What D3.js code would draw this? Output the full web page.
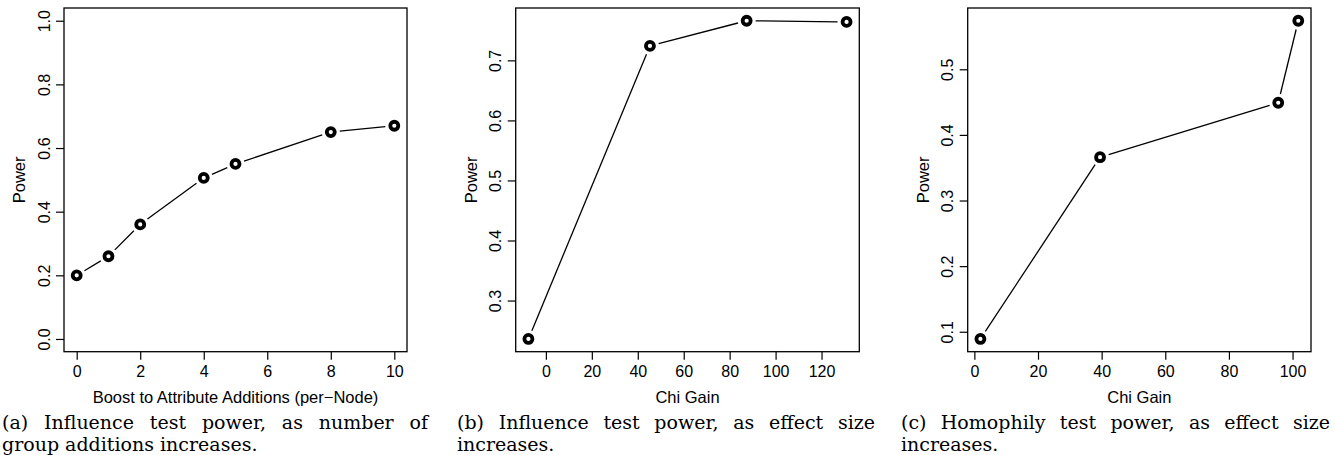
<!DOCTYPE html>
<html lang="en">
  <head>
    <title>Test power</title>
    <script src="https://d3js.org/d3.v7.min.js"></script>
    <style>
      body { margin: 0; background: #fff; }
      .axis text { font-family: "Liberation Sans", Arial, sans-serif; font-size: 16px; fill: #000; }
      .lab { font-family: "Liberation Sans", Arial, sans-serif; font-size: 16.5px; fill: #000; }
      .cap { font-family: "DejaVu Serif", serif; font-size: 19px; fill: #000; }
      line.seg { stroke: #000; stroke-width: 1.3; }
      circle.pt { fill: #fff; stroke: #000; stroke-width: 3.8; }
    </style>
  </head>
  <body>
    <svg width="1335" height="455"></svg>

    <script>
      // panel (a)
      var boostX = [0, 1, 2, 4, 5, 8, 10];
      var boostPower = [0.20, 0.26, 0.36, 0.506, 0.55, 0.65, 0.67];
      // panel (b)
      var chiInfX = [-7.6, 45.3, 87.4, 130.9];
      var chiInfPower = [0.236, 0.724, 0.766, 0.764];
      // panel (c)
      var chiHomX = [1.9, 39.5, 95.5, 101.8];
      var chiHomPower = [0.089, 0.366, 0.449, 0.574];

      var xTicksA = [0, 2, 4, 6, 8, 10], yTicksA = [0, 0.2, 0.4, 0.6, 0.8, 1.0];
      var xTicksB = [0, 20, 40, 60, 80, 100, 120], yTicksB = [0.3, 0.4, 0.5, 0.6, 0.7];
      var xTicksC = [0, 20, 40, 60, 80, 100], yTicksC = [0.1, 0.2, 0.3, 0.4, 0.5];

      var xTitles = ["Boost to Attribute Additions (per\u2212Node)", "Chi Gain", "Chi Gain"];
      var captions = [
        ["(a) Influence test power, as number of", "group additions increases."],
        ["(b) Influence test power, as effect size", "increases."],
        ["(c) Homophily test power, as effect size", "increases."]
      ];

      // R style 4% padding
      function pad(ext) {
        var d = (ext[1] - ext[0]) * 0.04;
        return [ext[0] - d, ext[1] + d];
      }

      var panels = [
        {x: boostX, y: boostPower, xt: xTicksA, yt: yTicksA, xd: pad([0, 10]), yd: pad([0, 1]),
         left: 64, right: 407, capL: 2, capR: 428},
        {x: chiInfX, y: chiInfPower, xt: xTicksB, yt: yTicksB, xd: pad(d3.extent(chiInfX)), yd: pad(d3.extent(chiInfPower)),
         left: 515.7, right: 859.3, capL: 457, capR: 875},
        {x: chiHomX, y: chiHomPower, xt: xTicksC, yt: yTicksC, xd: pad(d3.extent(chiHomX)), yd: pad(d3.extent(chiHomPower)),
         left: 967.7, right: 1311, capL: 901, capR: 1330}
      ];

      var plotTop = 8, plotBottom = 351.7, gap = 9;
      var svg = d3.select("svg");

      panels.forEach(function(p, i) {
        var x = d3.scaleLinear().domain(p.xd).range([p.left, p.right]);
        var y = d3.scaleLinear().domain(p.yd).range([plotBottom, plotTop]);
        var g = svg.append("g");

        // x axis
        var xa = g.append("g").attr("class", "axis")
          .attr("transform", "translate(0," + plotBottom + ")")
          .call(d3.axisBottom(x).tickValues(p.xt).tickSize(8).tickPadding(0).tickFormat(d3.format("d")));
        xa.select(".domain").remove();
        xa.selectAll(".tick text").attr("y", 20).attr("dy", null).attr("dominant-baseline", "central");
        xa.selectAll("line").attr("stroke", "#000").attr("stroke-width", 1.2);

        // y axis, labels rotated like R's default
        var ya = g.append("g").attr("class", "axis")
          .attr("transform", "translate(" + p.left + ",0)")
          .call(d3.axisLeft(y).tickValues(p.yt).tickSize(8).tickFormat(d3.format(".1f")));
        ya.select(".domain").remove();
        ya.selectAll("line").attr("stroke", "#000").attr("stroke-width", 1.2);
        ya.selectAll(".tick text")
          .attr("x", null).attr("dy", null)
          .attr("transform", "translate(-20,0) rotate(-90)")
          .attr("text-anchor", "middle")
          .attr("dominant-baseline", "central");

        // box
        g.append("rect")
          .attr("x", p.left).attr("y", plotTop)
          .attr("width", p.right - p.left).attr("height", plotBottom - plotTop)
          .attr("fill", "none").attr("stroke", "#000").attr("stroke-width", 1.3);

        // titles
        g.append("text").attr("class", "lab")
          .attr("x", (p.left + p.right) / 2).attr("y", plotBottom + 45)
          .attr("text-anchor", "middle").attr("dominant-baseline", "central")
          .text(xTitles[i]);
        g.append("text").attr("class", "lab")
          .attr("transform", "translate(" + (p.left - 45) + "," + ((plotTop + plotBottom) / 2) + ") rotate(-90)")
          .attr("text-anchor", "middle").attr("dominant-baseline", "central")
          .text("Power");

        // line segments with gaps (type = "b")
        var pts = p.x.map(function(v, k) { return [x(v), y(p.y[k])]; });
        var segs = d3.pairs(pts);
        g.selectAll("line.seg").data(segs).enter().append("line").attr("class", "seg")
          .each(function(s) {
            var dx = s[1][0] - s[0][0], dy = s[1][1] - s[0][1];
            var len = Math.sqrt(dx * dx + dy * dy);
            var ux = dx / len, uy = dy / len;
            d3.select(this)
              .attr("x1", s[0][0] + ux * gap).attr("y1", s[0][1] + uy * gap)
              .attr("x2", s[1][0] - ux * gap).attr("y2", s[1][1] - uy * gap);
          });

        g.selectAll("circle.pt").data(pts).enter().append("circle").attr("class", "pt")
          .attr("cx", function(d) { return d[0]; })
          .attr("cy", function(d) { return d[1]; })
          .attr("r", 4);

        // caption, first line justified
        var c1 = g.append("text").attr("class", "cap")
          .attr("x", p.capL).attr("y", 429).text(captions[i][0]);
        var w = c1.node().getComputedTextLength();
        var spaces = captions[i][0].split(" ").length - 1;
        c1.attr("word-spacing", (p.capR - p.capL - w) / spaces);
        g.append("text").attr("class", "cap")
          .attr("x", p.capL).attr("y", 451).text(captions[i][1]);
      });
    </script>
  </body>
</html>
